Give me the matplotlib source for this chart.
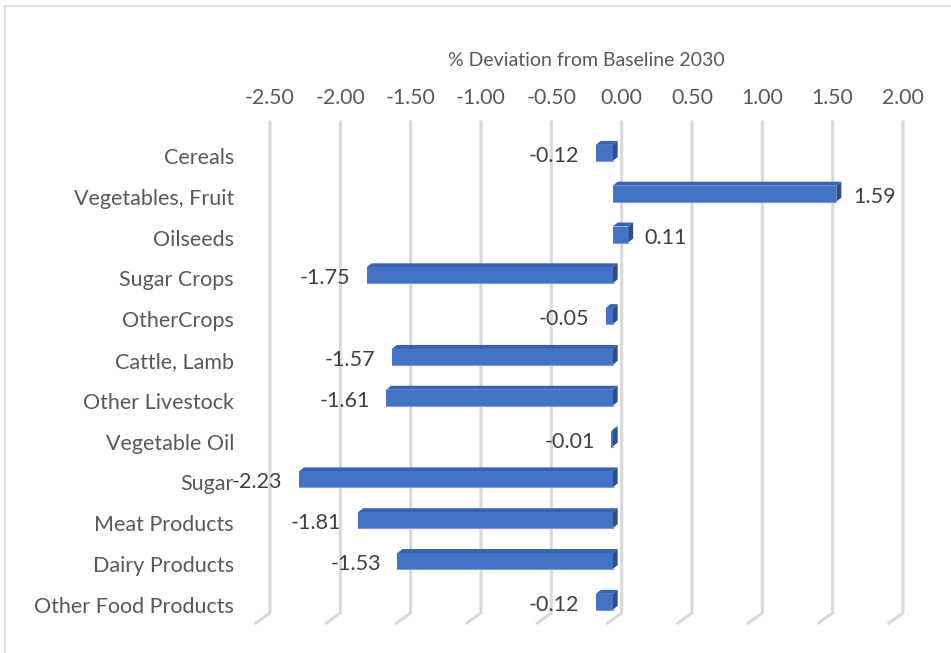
import matplotlib
matplotlib.use("Agg")
import matplotlib.pyplot as plt
from matplotlib.patches import Polygon, Rectangle
from matplotlib.lines import Line2D

categories = [
    "Cereals", "Vegetables, Fruit", "Oilseeds", "Sugar Crops", "OtherCrops",
    "Cattle, Lamb", "Other Livestock", "Vegetable Oil", "Sugar",
    "Meat Products", "Dairy Products", "Other Food Products",
]
values = [-0.12, 1.59, 0.11, -1.75, -0.05, -1.57, -1.61, -0.01, -2.23, -1.81, -1.53, -0.12]
x_ticks = [-2.5, -2.0, -1.5, -1.0, -0.5, 0.0, 0.5, 1.0, 1.5, 2.0]
x_title = "% Deviation from Baseline 2030"

FONT = ["Lato", "DejaVu Sans"]
plt.rcParams["font.family"] = FONT

W, H, DPI = 951, 653, 100
fig = plt.figure(figsize=(W / DPI, H / DPI), dpi=DPI)
fig.patch.set_facecolor("white")

# plot area (back wall) in pixels
left_px, right_px, top_px, bottom_px = 270, 903, 122, 613
ax = fig.add_axes([left_px / W, 1 - bottom_px / H,
                   (right_px - left_px) / W, (bottom_px - top_px) / H])
ax.set_xlim(x_ticks[0], x_ticks[-1])
ax.set_ylim(11.2, -0.83)
for s in ax.spines.values():
    s.set_visible(False)
ax.set_facecolor("none")

# helpers: convert pixel offsets to data units
inv = ax.transData.inverted()
def px_to_data(dx, dy):
    a = inv.transform((0, 0))
    b = inv.transform((dx, dy))
    return b[0] - a[0], b[1] - a[1]

GRID = "#D9D9D9"
ymin, ymax = ax.get_ylim()[1], ax.get_ylim()[0]   # top, bottom in data
floor_dx, floor_dy = px_to_data(-14, -10)
for t in x_ticks:
    ax.add_line(Line2D([t, t, t + floor_dx], [ymin, ymax, ymax + floor_dy],
                       color=GRID, lw=2.2, clip_on=False, zorder=1,
                       solid_joinstyle="miter"))

# 3D bars
FRONT, TOP, SIDE = "#4472C4", "#3A63AF", "#2D4F8C"
shift_x, shift_y = px_to_data(-9, 3)          # front plane offset
depth_x, depth_y = px_to_data(5, 4)           # depth of the bar
half_h = abs(px_to_data(0, 8)[1])

LABEL_FS = 15.5
for i, v in enumerate(values):
    x0 = min(0, v) + shift_x
    x1 = max(0, v) + shift_x
    yc = i + shift_y
    yt, yb = yc - half_h, yc + half_h
    ax.add_patch(Polygon([(x0, yt), (x1, yt), (x1 + depth_x, yt + depth_y),
                          (x0 + depth_x, yt + depth_y)], closed=True,
                         facecolor=TOP, edgecolor="none", zorder=3, clip_on=False))
    ax.add_patch(Polygon([(x1, yt), (x1 + depth_x, yt + depth_y),
                          (x1 + depth_x, yb + depth_y), (x1, yb)], closed=True,
                         facecolor=SIDE, edgecolor="none", zorder=3, clip_on=False))
    ax.add_patch(Rectangle((x0, yt), x1 - x0, yb - yt, facecolor=FRONT,
                           edgecolor="none", zorder=4, clip_on=False))
    ax.add_line(Line2D([x0, x1], [yb, yb], color="#7C9BD6", lw=0.8, zorder=5))

    if v < 0:
        ax.annotate(f"{v:.2f}", xy=(x0, i), xytext=(-12, 0),
                    textcoords="offset points", ha="right", va="center",
                    fontsize=LABEL_FS, color="#404040", zorder=6)
    else:
        ax.annotate(f"{v:.2f}", xy=(x1, i), xytext=(12, 0),
                    textcoords="offset points", ha="left", va="center",
                    fontsize=LABEL_FS, color="#404040", zorder=6)

# axes labels
ax.xaxis.tick_top()
ax.set_xticks(x_ticks)
ax.set_xticklabels([f"{t:.2f}" for t in x_ticks], fontsize=15.3, color="#595959")
ax.set_yticks(range(len(categories)))
ax.set_yticklabels(categories, fontsize=15.5, color="#595959")
ax.tick_params(axis="both", length=0)
ax.tick_params(axis="x", pad=10)
ax.tick_params(axis="y", pad=26)

fig.text((left_px + right_px) / 2 / W, 1 - 60 / H, x_title, ha="center",
         va="center", fontsize=14, color="#595959")

# chart border
fig.add_artist(Line2D([5 / W, 1], [1 - 6 / H, 1 - 6 / H], color=GRID, lw=1.2,
                      transform=fig.transFigure))
fig.add_artist(Line2D([5 / W, 5 / W], [0, 1 - 6 / H], color=GRID, lw=1.2,
                      transform=fig.transFigure))

fig.savefig("out.png", dpi=DPI, facecolor="white")
